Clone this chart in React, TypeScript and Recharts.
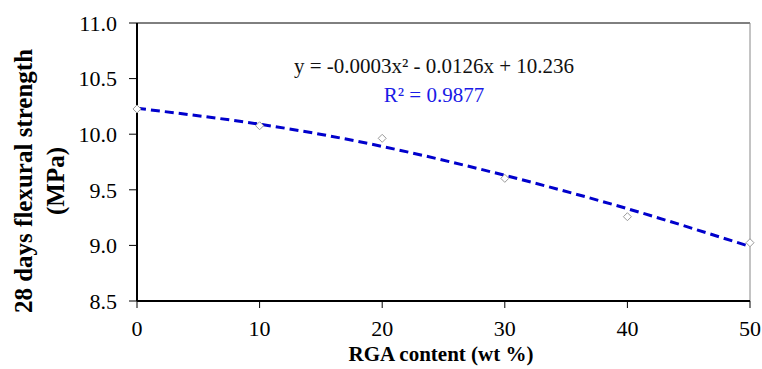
import {
  ComposedChart,
  Line,
  Scatter,
  XAxis,
  YAxis,
  ReferenceLine,
} from "recharts";

const rgaContent = [0, 10, 20, 30, 40, 50];
const flexuralStrength = [10.227, 10.076, 9.963, 9.603, 9.258, 9.024];
const trendValues = [10.233, 10.09, 9.89, 9.63, 9.33, 8.99];
const xTicks = [0, 10, 20, 30, 40, 50];
const yTicks = [8.5, 9.0, 9.5, 10.0, 10.5, 11.0];
const equationText = "y = -0.0003x\u00B2 - 0.0126x + 10.236";
const rSquaredText = "R\u00B2 = 0.9877";

const data = rgaContent.map((x, i) => ({
  x,
  strength: flexuralStrength[i],
  trend: trendValues[i],
}));

const serif = "Liberation Serif";

const Diamond = (props: any) => {
  const { cx, cy } = props;
  if (cx == null || cy == null) return null;
  const r = 4;
  return (
    <polygon
      points={`${cx},${cy - r} ${cx + r},${cy} ${cx},${cy + r} ${cx - r},${cy}`}
      fill="#fff"
      stroke="#9a9a9a"
      strokeWidth={1}
    />
  );
};

export default function App() {
  return (
    <div style={{ position: "absolute", left: 0, top: 0, width: 762, height: 369, background: "#fff" }}>
      <ComposedChart
        width={762}
        height={369}
        data={data}
        margin={{ top: 23, right: 12, bottom: 8, left: 0 }}
      >
        <XAxis
          dataKey="x"
          type="number"
          domain={[0, 50]}
          ticks={xTicks}
          height={60}
          tickSize={7}
          tickMargin={12}
          axisLine={{ stroke: "#000", strokeWidth: 2 }}
          tickLine={{ stroke: "#000" }}
          tick={{ fill: "#000", fontSize: 22, fontFamily: serif }}
        />
        <YAxis
          type="number"
          domain={[8.5, 11]}
          ticks={yTicks}
          width={137}
          tickSize={8}
          tickMargin={12}
          tickFormatter={(v: number) => v.toFixed(1)}
          axisLine={{ stroke: "#000", strokeWidth: 2 }}
          tickLine={{ stroke: "#000" }}
          tick={{ fill: "#000", fontSize: 22, fontFamily: serif }}
        />
        <ReferenceLine y={11} stroke="#000" strokeWidth={1} />
        <ReferenceLine x={50} stroke="#888" strokeWidth={1} />
        <Line
          dataKey="trend"
          type="natural"
          stroke="#0000cc"
          strokeWidth={3}
          strokeDasharray="9 5"
          dot={false}
          isAnimationActive={false}
        />
        <Scatter dataKey="strength" shape={Diamond} isAnimationActive={false} />
      </ComposedChart>

      <div
        style={{
          position: "absolute",
          left: 434,
          top: 54,
          transform: "translateX(-50%)",
          whiteSpace: "nowrap",
          fontFamily: serif,
          fontSize: 21,
          color: "#111",
        }}
      >
        {equationText}
      </div>
      <div
        style={{
          position: "absolute",
          left: 434,
          top: 83,
          transform: "translateX(-50%)",
          whiteSpace: "nowrap",
          fontFamily: serif,
          fontSize: 21,
          color: "#1a1ae6",
        }}
      >
        {rSquaredText}
      </div>

      <div
        style={{
          position: "absolute",
          left: 40,
          top: 181,
          transform: "translate(-50%, -50%) rotate(-90deg)",
          whiteSpace: "nowrap",
          textAlign: "center",
          fontFamily: serif,
          fontWeight: "bold",
          fontSize: 25,
          lineHeight: "32px",
          color: "#000",
        }}
      >
        28 days flexural strength
        <br />
        (MPa)
      </div>
      <div
        style={{
          position: "absolute",
          left: 441,
          top: 354,
          transform: "translate(-50%, -50%)",
          whiteSpace: "nowrap",
          fontFamily: serif,
          fontWeight: "bold",
          fontSize: 21,
          color: "#000",
        }}
      >
        RGA content (wt %)
      </div>
    </div>
  );
}
